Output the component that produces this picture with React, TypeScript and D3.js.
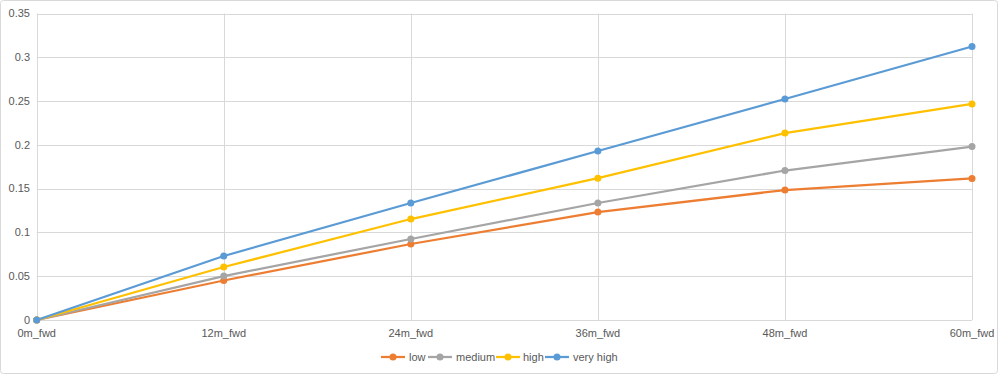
import React from "react";
import * as d3 from "d3";

const categories = ["0m_fwd", "12m_fwd", "24m_fwd", "36m_fwd", "48m_fwd", "60m_fwd"];
const lowValues = [0, 0.0451, 0.0868, 0.1233, 0.1484, 0.1616];
const mediumValues = [0, 0.0502, 0.0925, 0.1336, 0.1707, 0.1981];
const highValues = [0, 0.0605, 0.1153, 0.162, 0.2135, 0.2467];
const veryHighValues = [0, 0.0731, 0.1336, 0.193, 0.2524, 0.3123];
const yTicks = [0, 0.05, 0.1, 0.15, 0.2, 0.25, 0.3, 0.35];
const seriesNames = ["low", "medium", "high", "very high"];
const seriesColors = ["#ED7D31", "#A5A5A5", "#FFC000", "#5B9BD5"];

const W = 1000;
const H = 376;
const M = { left: 36.7, right: 1000 - 972, top: 13.5, bottom: 376 - 320 };
const FONT = "'Liberation Sans', Arial, sans-serif";

export default function App() {
  const series = [lowValues, mediumValues, highValues, veryHighValues];
  const x = d3
    .scalePoint<string>()
    .domain(categories)
    .range([M.left, W - M.right]);
  const y = d3
    .scaleLinear()
    .domain([0, 0.35])
    .range([H - M.bottom, M.top]);
  const line = d3
    .line<number>()
    .x((_, i) => x(categories[i]) as number)
    .y((d) => y(d));

  const legendItems = [
    { x: 381, tx: 409 },
    { x: 428, tx: 456 },
    { x: 496, tx: 523 },
    { x: 545, tx: 573 },
  ];

  return (
    <svg
      width={W}
      height={H}
      style={{ position: "absolute", left: 0, top: 0, display: "block" }}
      fontFamily={FONT}
    >
      <rect x={0} y={0} width={W} height={H} fill="#ffffff" />
      <rect
        x={0.5}
        y={0.5}
        width={W - 3}
        height={H - 3}
        rx={3}
        fill="none"
        stroke="#d9d9d9"
      />
      {/* horizontal gridlines */}
      {yTicks.map((t) => (
        <line
          key={"h" + t}
          x1={M.left}
          x2={W - M.right}
          y1={Math.round(y(t)) + 0.5}
          y2={Math.round(y(t)) + 0.5}
          stroke="#d9d9d9"
          strokeWidth={1}
        />
      ))}
      {/* vertical gridlines */}
      {categories.map((c) => (
        <line
          key={"v" + c}
          x1={Math.round(x(c) as number) + 0.5}
          x2={Math.round(x(c) as number) + 0.5}
          y1={M.top}
          y2={H - M.bottom}
          stroke="#d9d9d9"
          strokeWidth={1}
        />
      ))}
      {/* y tick labels */}
      {yTicks.map((t) => (
        <text
          key={"yl" + t}
          x={30}
          y={y(t)}
          dy="0.35em"
          textAnchor="end"
          fontSize={11}
          fill="#595959"
        >
          {String(t)}
        </text>
      ))}
      {/* x tick labels */}
      {categories.map((c) => (
        <text
          key={"xl" + c}
          x={x(c) as number}
          y={H - M.bottom + 13}
          dy="0.35em"
          textAnchor="middle"
          fontSize={11}
          fill="#595959"
        >
          {c}
        </text>
      ))}
      {/* series */}
      {series.map((vals, si) => (
        <g key={"s" + si}>
          <path
            d={line(vals) || ""}
            fill="none"
            stroke={seriesColors[si]}
            strokeWidth={2.25}
            strokeLinejoin="round"
            strokeLinecap="round"
          />
          {vals.map((v, i) => (
            <circle
              key={i}
              cx={x(categories[i]) as number}
              cy={y(v)}
              r={3.5}
              fill={seriesColors[si]}
            />
          ))}
        </g>
      ))}
      {/* legend */}
      {seriesNames.map((n, i) => (
        <g key={"lg" + n}>
          <line
            x1={legendItems[i].x}
            x2={legendItems[i].x + 24}
            y1={357}
            y2={357}
            stroke={seriesColors[i]}
            strokeWidth={2.25}
          />
          <circle cx={legendItems[i].x + 12} cy={357} r={3.5} fill={seriesColors[i]} />
          <text
            x={legendItems[i].tx}
            y={357}
            dy="0.35em"
            fontSize={11}
            fill="#595959"
          >
            {n}
          </text>
        </g>
      ))}
    </svg>
  );
}
